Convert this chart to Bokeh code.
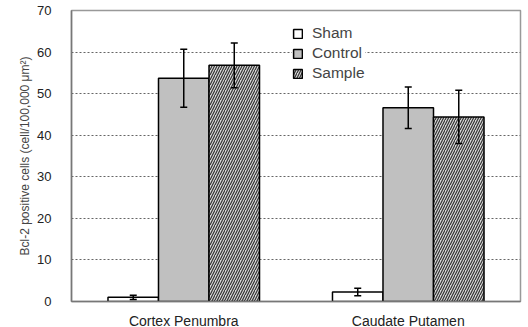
from bokeh.plotting import figure
from bokeh.models import ColumnDataSource, FactorRange, Whisker, Legend, LegendItem, FixedTicker, Range1d
from bokeh.transform import dodge
from bokeh.embed import file_html
from bokeh.resources import INLINE

categories = ["Cortex Penumbra", "Caudate Putamen"]
series = ["Sham", "Control", "Sample"]
sham = [1.0, 2.3]
sham_err = [0.5, 0.9]
control = [53.7, 46.6]
control_err = [7.0, 5.0]
sample = [56.8, 44.4]
sample_err = [5.4, 6.4]
y_ticks = [0, 10, 20, 30, 40, 50, 60, 70]

FONT = "Liberation Sans"

p = figure(x_range=FactorRange(factors=categories, range_padding=0),
           y_range=Range1d(0, 70), frame_width=449, frame_height=291,
           output_backend="svg", toolbar_location=None,
           min_border_left=71, min_border_right=4, min_border_top=10, min_border_bottom=4)
p.background_fill_color = "white"
p.border_fill_color = "white"
p.outline_line_color = "#999999"
p.outline_line_width = 1.5

bw = 0.225
offsets = [-bw, 0.0, bw]
vals = [sham, control, sample]
errs = [sham_err, control_err, sample_err]
styles = [dict(fill_color="white"),
          dict(fill_color="#c0c0c0"),
          dict(fill_color="#d8d8d8", hatch_pattern="right_diagonal_line",
               hatch_color="#333333", hatch_scale=5, hatch_weight=1.2)]

renderers = []
for name, v, e, off, st in zip(series, vals, errs, offsets, styles):
    src = ColumnDataSource(dict(x=categories, top=v,
                                upper=[a + b for a, b in zip(v, e)],
                                lower=[a - b for a, b in zip(v, e)]))
    r = p.vbar(x=dodge("x", off, range=p.x_range), top="top", width=bw, source=src,
               line_color="black", line_width=1.5, **st)
    renderers.append(r)
    w = Whisker(base=dodge("x", off, range=p.x_range), upper="upper", lower="lower",
                source=src, line_color="black", line_width=1.5, level="overlay")
    w.upper_head.size = 7
    w.lower_head.size = 7
    w.upper_head.line_width = 1.5
    w.lower_head.line_width = 1.5
    p.add_layout(w)

legend = Legend(items=[LegendItem(label=n, renderers=[r]) for n, r in zip(series, renderers)],
                location=(221, 219), padding=5, margin=0, spacing=2,
                label_text_font=FONT, label_text_font_size="15.5px",
                glyph_width=11, glyph_height=11, label_height=18,
                label_standoff=9, background_fill_color="white", background_fill_alpha=1.0,
                border_line_color=None)
p.add_layout(legend)

p.yaxis.ticker = FixedTicker(ticks=y_ticks)
p.ygrid.ticker = FixedTicker(ticks=[10, 20, 30, 40, 50, 60])
p.ygrid.grid_line_color = "#666666"
p.ygrid.grid_line_dash = "2 2"
p.ygrid.grid_line_width = 1
p.xgrid.grid_line_color = None

p.yaxis.axis_label = "Bcl-2 positive cells (cell/100,000 \u03bcm\u00b2)"
p.yaxis.axis_label_text_font = FONT
p.yaxis.axis_label_text_font_style = "normal"
p.yaxis.axis_label_text_font_size = "12px"
p.yaxis.axis_label_standoff = 2
p.yaxis.major_label_text_font = FONT
p.yaxis.major_label_text_font_size = "13px"
p.yaxis.major_label_text_color = "#222222"
p.yaxis.major_tick_line_color = None
p.yaxis.minor_tick_line_color = None
p.yaxis.axis_line_color = "#777777"
p.yaxis.axis_line_width = 1.5
p.yaxis.major_label_standoff = 14

p.xaxis.major_label_text_font = FONT
p.xaxis.major_label_text_font_size = "14px"
p.xaxis.major_label_text_color = "#222222"
p.xaxis.major_tick_line_color = None
p.xaxis.axis_line_color = "#777777"
p.xaxis.axis_line_width = 1.5
p.xaxis.major_label_standoff = 5

open("out.html", "w").write(file_html(p, INLINE))
